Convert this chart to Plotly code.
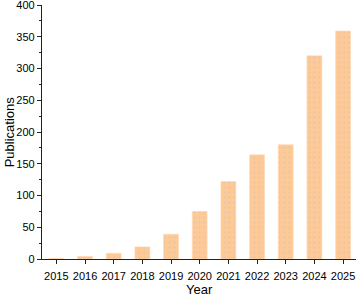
import plotly.graph_objects as go

years = ["2015", "2016", "2017", "2018", "2019", "2020", "2021", "2022", "2023", "2024", "2025"]
publications = [1, 4, 9, 19, 39, 75, 122, 164, 180, 320, 359]
y_ticks = [0, 50, 100, 150, 200, 250, 300, 350, 400]

fig = go.Figure(go.Bar(
    x=years, y=publications,
    marker=dict(color="#FFC995", line=dict(color="#FFD9B5", width=0.6),
                pattern=dict(shape=".", fgcolor="#B9C3C9", size=5, solidity=0.15)),
    width=0.52,
))

font = "Liberation Sans, Arial, sans-serif"
fig.update_layout(
    width=360, height=298,
    margin=dict(l=42, r=4, t=5, b=39),
    paper_bgcolor="white", plot_bgcolor="white",
    showlegend=False,
    font=dict(family=font, color="black", size=11),
    annotations=[
        dict(text="Year", xref="paper", yref="paper", x=0.5, y=-0.122,
             xanchor="center", yanchor="middle", showarrow=False, font=dict(size=13)),
        dict(text="Publications", xref="paper", yref="paper", x=-0.104, y=0.5,
             xanchor="center", yanchor="middle", textangle=-90, showarrow=False,
             font=dict(size=13)),
    ],
)
fig.update_xaxes(
    type="category", range=[-0.5, 10.45], automargin=False,
    showline=True, linecolor="#222", linewidth=1.3,
    ticks="outside", ticklen=4, tickcolor="#222", tickwidth=1,
    showgrid=False, tickfont=dict(size=11), ticklabeloverflow="allow",
    ticklabelstandoff=3,
)
fig.update_yaxes(
    range=[0, 400], tickvals=y_ticks, automargin=False,
    showline=True, linecolor="#222", linewidth=1.3,
    ticks="outside", ticklen=4, tickcolor="#222", tickwidth=1,
    minor=dict(dtick=25, ticks="outside", ticklen=2, tickcolor="#222", showgrid=False),
    showgrid=False, zeroline=False, tickfont=dict(size=11), ticklabeloverflow="allow",
)
fig.write_html("out.html", config={"displayModeBar": False},
               post_script="document.body.style.margin='0';")
